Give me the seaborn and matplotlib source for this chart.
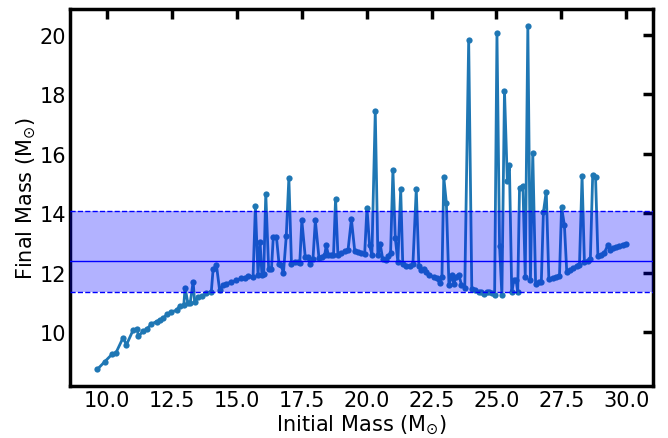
import numpy as np
import pandas as pd
import matplotlib
matplotlib.use("Agg")
import matplotlib.pyplot as plt
import seaborn as sns

initial_mass = [
    9.62, 9.90, 10.18, 10.33, 10.61, 10.74, 11.00, 11.15, 11.20, 11.38,
    11.53, 11.70, 11.90, 12.02, 12.15, 12.30, 12.47, 12.67, 12.79, 12.95,
    13.00, 13.11, 13.20, 13.31, 13.37, 13.50, 13.67, 13.82, 14.01, 14.08,
    14.21, 14.33, 14.46, 14.59, 14.78, 14.98, 15.17, 15.30, 15.42, 15.62,
    15.71, 15.81, 15.89, 15.96, 16.03, 16.11, 16.22, 16.33, 16.40, 16.52,
    16.62, 16.71, 16.79, 16.90, 17.00, 17.10, 17.22, 17.35, 17.42, 17.50,
    17.63, 17.73, 17.80, 17.93, 18.02, 18.16, 18.27, 18.38, 18.44, 18.52,
    18.64, 18.72, 18.80, 18.89, 19.02, 19.15, 19.28, 19.41, 19.54, 19.66,
    19.79, 19.92, 20.01, 20.11, 20.20, 20.33, 20.43, 20.52, 20.62, 20.73,
    20.82, 20.92, 21.01, 21.10, 21.20, 21.31, 21.39, 21.53, 21.65, 21.78,
    21.91, 22.01, 22.10, 22.20, 22.30, 22.42, 22.58, 22.70, 22.81, 22.90,
    22.97, 23.07, 23.17, 23.28, 23.36, 23.45, 23.55, 23.65, 23.78, 23.93,
    24.05, 24.18, 24.31, 24.41, 24.51, 24.65, 24.73, 24.82, 24.93, 25.02,
    25.12, 25.21, 25.31, 25.42, 25.50, 25.59, 25.67, 25.76, 25.82, 25.89,
    26.02, 26.11, 26.21, 26.31, 26.40, 26.51, 26.63, 26.73, 26.81, 26.92,
    27.02, 27.17, 27.30, 27.43, 27.51, 27.62, 27.71, 27.84, 27.97, 28.10,
    28.20, 28.30, 28.39, 28.52, 28.62, 28.71, 28.82, 28.91, 29.04, 29.16,
    29.29, 29.38, 29.48, 29.61, 29.74, 29.87, 30.00,
]
final_mass = [
    8.76, 9.01, 9.26, 9.30, 9.82, 9.58, 10.08, 10.12, 9.86, 10.04,
    10.11, 10.28, 10.36, 10.41, 10.47, 10.60, 10.69, 10.74, 10.88, 10.91,
    11.50, 10.97, 11.00, 11.70, 11.01, 11.20, 11.23, 11.31, 11.36, 12.12,
    12.25, 11.42, 11.58, 11.64, 11.68, 11.75, 11.81, 11.81, 11.90, 11.87,
    14.24, 11.94, 13.04, 11.94, 11.96, 14.66, 12.14, 12.14, 13.21, 13.21,
    12.31, 12.25, 11.98, 13.24, 15.19, 12.31, 12.37, 12.37, 12.33, 13.76,
    12.54, 12.54, 12.31, 12.48, 13.76, 12.50, 12.54, 12.59, 12.92, 12.61,
    12.61, 12.59, 14.49, 12.61, 12.65, 12.72, 12.76, 13.80, 12.72, 12.70,
    12.68, 12.62, 14.18, 12.92, 12.61, 17.43, 12.59, 12.96, 12.45, 12.42,
    12.57, 12.65, 15.46, 13.18, 12.37, 14.80, 12.28, 12.23, 12.23, 12.28,
    14.80, 12.23, 12.09, 12.14, 12.03, 11.92, 11.87, 11.81, 11.66, 11.87,
    15.21, 14.35, 11.58, 11.92, 11.64, 11.87, 11.94, 11.60, 11.50, 19.82,
    11.45, 11.42, 11.36, 11.34, 11.30, 11.34, 11.34, 11.31, 11.27, 20.05,
    12.90, 11.25, 18.12, 15.07, 15.63, 11.34, 11.75, 11.75, 11.36, 14.86,
    14.93, 11.87, 20.29, 11.75, 16.03, 11.61, 11.68, 11.70, 14.04, 14.73,
    11.79, 11.83, 11.87, 11.90, 14.21, 13.59, 12.03, 12.09, 12.17, 12.23,
    12.25, 15.25, 12.37, 12.39, 12.48, 15.29, 15.21, 12.57, 12.61, 12.68,
    12.92, 12.76, 12.84, 12.87, 12.90, 12.95, 12.98,
]

band_low = 11.35
band_mid = 12.38
band_high = 14.08

df = pd.DataFrame({"Initial Mass": initial_mass, "Final Mass": final_mass})

sns.set_style("white")
plt.rcParams["font.family"] = ["DejaVu Sans"]
plt.rcParams["text.color"] = "black"
plt.rcParams["axes.labelcolor"] = "black"
plt.rcParams["xtick.color"] = "black"
plt.rcParams["ytick.color"] = "black"

fig, ax = plt.subplots(figsize=(6.68, 4.39), dpi=100)
fig.subplots_adjust(left=0.105, right=0.977, top=0.977, bottom=0.118)

sns.lineplot(data=df, x="Initial Mass", y="Final Mass", sort=False,
             color="#1f77b4", linewidth=2, marker="o", markersize=4.5,
             markeredgewidth=0, ax=ax, zorder=2)

ax.axhspan(band_low, band_high, color="blue", alpha=0.3, lw=0, zorder=3)
ax.axhline(band_low, color="blue", ls="--", lw=1, zorder=4)
ax.axhline(band_high, color="blue", ls="--", lw=1, zorder=4)
ax.axhline(band_mid, color="blue", ls="-", lw=1, zorder=4)

ax.set_xticks([10.0, 12.5, 15.0, 17.5, 20.0, 22.5, 25.0, 27.5, 30.0])
ax.set_yticks([10, 12, 14, 16, 18, 20])
ax.set_xlim(8.57, 31.02)
ax.set_ylim(8.19, 20.86)

ax.set_xlabel(r"Initial Mass (M$_{\odot}$)", fontsize=15, labelpad=2)
ax.set_ylabel(r"Final Mass (M$_{\odot}$)", fontsize=15, labelpad=1)
ax.tick_params(axis="both", which="major", direction="in", length=7, width=2.5,
               labelsize=15, top=True, right=True, color="black",
               labelcolor="black", pad=3)
for sp in ax.spines.values():
    sp.set_linewidth(2.5)
    sp.set_color("black")

fig.savefig("out.png", dpi=100)
